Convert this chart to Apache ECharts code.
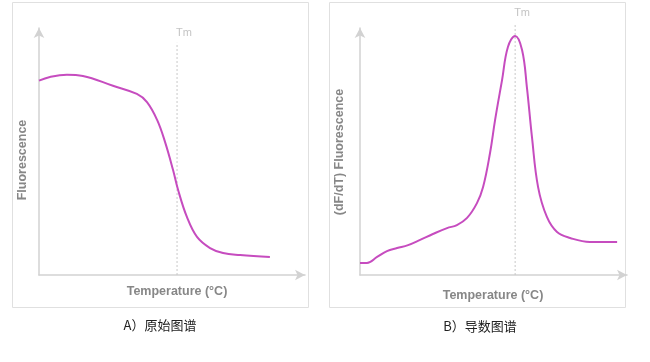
<!DOCTYPE html>
<html>
<head>
<meta charset="utf-8">
<script src="https://cdn.jsdelivr.net/npm/echarts@6/dist/echarts.min.js"></script>
<style>html,body{margin:0;padding:0;background:#fff;}#c{width:650px;height:362px;}</style>
</head>
<body>
<div id="c"></div>
<script>
// Panel A: raw melt curve (temperature, fluorescence), arbitrary units
var tempA = [0, 4.1, 10.5, 16.5, 27.8, 36.8, 40.6, 44.4, 47.4, 50.4, 52.3, 55.6, 59.4, 64.3, 69.2, 75.6, 86.8];
var fluoA = [78.7, 80.2, 81.1, 80.6, 76.6, 73.3, 70.0, 62.8, 53.8, 42.5, 34.4, 23.5, 15.4, 10.9, 8.9, 8.1, 7.3];
// Panel B: derivative curve
var tempB = [0, 2.6, 6.4, 10.1, 13.9, 18.0, 22.5, 27.3, 32.6, 36.3, 40.1, 43.8, 46.1, 48.7, 50.6, 53.2, 55.4, 58.1, 60.7, 62.5, 64.4, 66.7, 70.0, 73.8, 78.7, 86.1, 96.3];
var dfdtB = [4.9, 4.9, 7.3, 9.7, 10.9, 12.1, 14.2, 16.6, 19.0, 20.2, 23.1, 29.1, 35.6, 49.4, 62.8, 78.9, 92.3, 96.8, 91.1, 76.1, 55.9, 35.6, 23.5, 17.4, 15.0, 13.4, 13.4];
var tmA = 51.9, tmTopA = 94;
var tmB = 58.1, tmTopB = 102;
var xNames = ['Temperature (°C)', 'Temperature (°C)'];
var yNames = ['Fluorescence', '(dF/dT) Fluorescence'];
var captions = ['A）原始图谱', 'B）导数图谱'];

function pairs(xs, ys){ return xs.map(function(x,i){return [x, ys[i]];}); }

var curveColor = '#c64cbf';
var axisColor = '#d2d2d2';
var nameFont = 'bold 12.5px "Liberation Sans", Arial, sans-serif';

function xAxisDef(idx){
  return {type:'value', gridIndex:idx, min:0, max:100,
    axisLine:{show:true, symbol:['none','arrow'], symbolSize:[8,10], lineStyle:{color:axisColor, width:1.5}},
    axisTick:{show:false}, axisLabel:{show:false}, splitLine:{show:false}};
}
function yAxisDef(idx){
  return {type:'value', gridIndex:idx, min:0, max:100,
    axisLine:{show:true, symbol:['none','arrow'], symbolSize:[8,10], lineStyle:{color:axisColor, width:1.5}},
    axisTick:{show:false}, axisLabel:{show:false}, splitLine:{show:false}};
}
function tmSeries(idx, t, top){
  return {type:'line', xAxisIndex:idx, yAxisIndex:idx, data:[[t,0],[t,top]], symbol:'none', clip:false,
    lineStyle:{color:'#c8c8c8', width:1, type:[2,2]}, silent:true, z:1,
    endLabel:{show:true, formatter:'Tm', color:'#c4c4c4', fontSize:11, fontFamily:'Liberation Sans, Arial, sans-serif', offset:[-9,-10]}};
}
function nameText(txt, x, y, rot){
  return {type:'text', x:x, y:y, rotation:rot, style:{text:txt, font:nameFont, fill:'#878787', textAlign:'center', textVerticalAlign:'middle'}};
}

var chart = echarts.init(document.getElementById('c'), null, {renderer:'canvas'});
chart.setOption({
  animation:false,
  backgroundColor:'#fff',
  grid:[
    {left:39, top:28, width:266, height:247},
    {left:360, top:28, width:267, height:247}
  ],
  xAxis:[xAxisDef(0), xAxisDef(1)],
  yAxis:[yAxisDef(0), yAxisDef(1)],
  series:[
    tmSeries(0, tmA, tmTopA),
    {type:'line', xAxisIndex:0, yAxisIndex:0, data:pairs(tempA, fluoA), smooth:0.4, symbol:'none',
      lineStyle:{color:curveColor, width:2}, z:3},
    tmSeries(1, tmB, tmTopB),
    {type:'line', xAxisIndex:1, yAxisIndex:1, data:pairs(tempB, dfdtB), smooth:0.4, symbol:'none',
      lineStyle:{color:curveColor, width:2}, z:3}
  ],
  graphic:[
    {type:'rect', shape:{x:12.5, y:2.5, width:296, height:305}, style:{fill:'none', stroke:'#e0e0e0', lineWidth:1}, z:-1},
    {type:'rect', shape:{x:329.5, y:2.5, width:296, height:305}, style:{fill:'none', stroke:'#e0e0e0', lineWidth:1}, z:-1},
    nameText(xNames[0], 177, 292, 0),
    nameText(xNames[1], 493, 296, 0),
    nameText(yNames[0], 23, 160, Math.PI/2),
    nameText(yNames[1], 340, 152, Math.PI/2),
    {type:'text', x:160, y:325, style:{text:captions[0], fill:'#222', fontSize:13, fontFamily:'Noto Sans CJK SC, sans-serif', textAlign:'center', textVerticalAlign:'middle'}},
    {type:'text', x:480, y:326, style:{text:captions[1], fill:'#222', fontSize:13, fontFamily:'Noto Sans CJK SC, sans-serif', textAlign:'center', textVerticalAlign:'middle'}}
  ]
});
</script>
</body>
</html>
